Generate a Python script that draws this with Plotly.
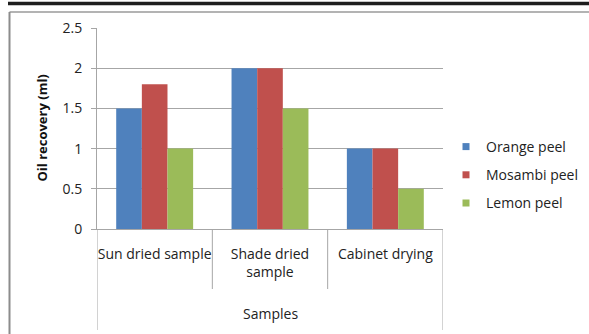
import plotly.graph_objects as go

# Oil recovered from citrus peels under three drying methods
samples = ["Sun dried sample", "Shade dried<br>sample", "Cabinet drying"]
series_names = ["Orange peel", "Mosambi peel", "Lemon peel"]
orange_peel = [1.5, 2.0, 1.0]
mosambi_peel = [1.8, 2.0, 1.0]
lemon_peel = [1.0, 1.5, 0.5]
y_ticks = [0, 0.5, 1, 1.5, 2, 2.5]
y_tick_text = ["0", "0.5", "1", "1.5", "2", "2.5"]

colors = ["#4F81BD", "#C0504D", "#9BBB59"]
FONT = "Open Sans"
W, H = 589, 334
L, R, T, B = 97, 146, 28, 105
PW, PH = W - L - R, H - T - B


def px_x(px):
    return (px - L) / PW


def px_y(py):
    return (H - B - py) / PH


fig = go.Figure()
idx = list(range(len(samples)))
for name, vals, col in zip(series_names, [orange_peel, mosambi_peel, lemon_peel], colors):
    fig.add_trace(go.Bar(x=idx, y=vals, name=name, marker=dict(color=col, line=dict(width=0)),
                         showlegend=False))
    # compact square legend entry
    fig.add_trace(go.Scatter(x=[None], y=[None], mode="markers", name=name, legendgroup=name,
                             marker=dict(symbol="square", size=7, color=col)))

shapes = []
# category separators below the axis
for i, b in enumerate([-0.5, 0.5, 1.5, 2.5]):
    outer = i in (0, 3)
    shapes.append(dict(type="line", xref="x", yref="paper", x0=b, x1=b,
                       y0=0, y1=px_y(330) if outer else px_y(289),
                       line=dict(color="#A6A6A6", width=1)))
# outer frame
shapes.append(dict(type="line", xref="paper", yref="paper", x0=px_x(8), x1=px_x(W + 5),
                   y0=px_y(3.5), y1=px_y(3.5), line=dict(color="#1E1E1E", width=3.5)))
shapes.append(dict(type="line", xref="paper", yref="paper", x0=px_x(9.5), x1=px_x(W + 5),
                   y0=px_y(12), y1=px_y(12), line=dict(color="#9A9A9A", width=1.5)))
shapes.append(dict(type="line", xref="paper", yref="paper", x0=px_x(9.5), x1=px_x(9.5),
                   y0=px_y(12), y1=px_y(H + 5), line=dict(color="#8C8C8C", width=2)))

annotations = [
    dict(text="Samples", xref="paper", yref="paper", x=0.5, y=px_y(313),
         showarrow=False, xanchor="center", yanchor="middle",
         font=dict(family=FONT, size=14, color="#222")),
    dict(text="<b>Oil recovery (ml)</b>", xref="paper", yref="paper", x=px_x(41), y=0.5,
         textangle=-90, showarrow=False, xanchor="center", yanchor="middle",
         font=dict(family=FONT, size=13, color="#111")),
]

fig.update_layout(
    width=W, height=H,
    margin=dict(l=L, r=R, t=T, b=B, autoexpand=False),
    paper_bgcolor="white", plot_bgcolor="white",
    barmode="group", bargap=0.333, bargroupgap=0,
    font=dict(family=FONT, size=13, color="#222"),
    shapes=shapes, annotations=annotations,
    legend=dict(x=px_x(446), y=px_y(175), xanchor="left", yanchor="middle",
                font=dict(family=FONT, size=14, color="#222"),
                itemsizing="trace", itemwidth=30, tracegroupgap=7,
                bgcolor="rgba(0,0,0,0)"),
    xaxis=dict(tickmode="array", tickvals=idx, ticktext=samples, range=[-0.5, 2.5],
               showgrid=False, showline=True, linecolor="#A6A6A6", linewidth=1,
               ticks="", tickangle=0, ticklabelstandoff=12, automargin=False,
               tickfont=dict(family=FONT, size=14, color="#222"), zeroline=False),
    yaxis=dict(range=[0, 2.5], tickmode="array", tickvals=y_ticks, ticktext=y_tick_text,
               showgrid=True, gridcolor="#A6A6A6", gridwidth=1,
               showline=True, linecolor="#A6A6A6", linewidth=1,
               ticks="outside", ticklen=5, tickcolor="#A6A6A6", ticklabelstandoff=6,
               automargin=False, zeroline=False,
               tickfont=dict(family=FONT, size=14, color="#222")),
)

fig.write_html("out.html")
